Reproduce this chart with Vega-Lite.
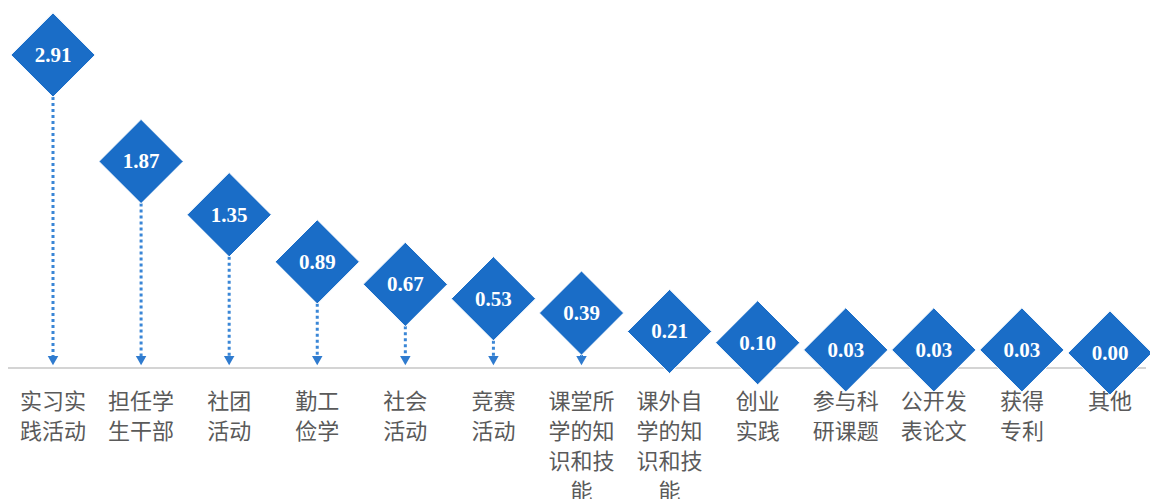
{
  "$schema": "https://vega.github.io/schema/vega-lite/v6.json",
  "width": 1150,
  "height": 499,
  "autosize": {"type": "none"},
  "padding": 0,
  "background": "#ffffff",
  "config": {"view": {"stroke": null}},
  "data": {
    "values": [
      {"cat": "实习实践活动", "label": "实习实\n践活动", "value": 2.91},
      {"cat": "担任学生干部", "label": "担任学\n生干部", "value": 1.87},
      {"cat": "社团活动", "label": "社团\n活动", "value": 1.35},
      {"cat": "勤工俭学", "label": "勤工\n俭学", "value": 0.89},
      {"cat": "社会活动", "label": "社会\n活动", "value": 0.67},
      {"cat": "竞赛活动", "label": "竞赛\n活动", "value": 0.53},
      {"cat": "课堂所学的知识和技能", "label": "课堂所\n学的知\n识和技\n能", "value": 0.39},
      {"cat": "课外自学的知识和技能", "label": "课外自\n学的知\n识和技\n能", "value": 0.21},
      {"cat": "创业实践", "label": "创业\n实践", "value": 0.10},
      {"cat": "参与科研课题", "label": "参与科\n研课题", "value": 0.03},
      {"cat": "公开发表论文", "label": "公开发\n表论文", "value": 0.03},
      {"cat": "获得专利", "label": "获得\n专利", "value": 0.03},
      {"cat": "其他", "label": "其他", "value": 0.00}
    ]
  },
  "encoding": {
    "x": {"field": "cat", "type": "nominal", "sort": null, "axis": null,
          "scale": {"type": "point", "range": [53, 1110], "padding": 0}}
  },
  "layer": [
    {
      "mark": {"type": "rule", "color": "#d4d4d4", "strokeWidth": 2},
      "encoding": {
        "x": {"value": 8},
        "x2": {"value": 1146},
        "y": {"datum": -0.1465, "type": "quantitative",
              "scale": {"domain": [-1.426, 3.447], "nice": false, "zero": false}, "axis": null}
      }
    },
    {
      "mark": {"type": "rule", "color": "#3a86d6", "strokeWidth": 3, "strokeDash": [3, 3]},
      "encoding": {
        "y": {"field": "value", "type": "quantitative"},
        "y2": {"datum": -0.08}
      }
    },
    {
      "mark": {"type": "point", "shape": "triangle-down", "filled": true, "color": "#2f7bcf", "size": 110, "opacity": 1},
      "encoding": {
        "y": {"datum": -0.075, "type": "quantitative"}
      }
    },
    {
      "mark": {"type": "point", "shape": "diamond", "filled": true, "color": "#1a6dc7", "size": 7100, "opacity": 1, "stroke": "#ffffff", "strokeWidth": 1},
      "encoding": {
        "y": {"field": "value", "type": "quantitative"}
      }
    },
    {
      "mark": {"type": "text", "color": "#ffffff", "font": "Liberation Serif", "fontWeight": "bold", "fontSize": 21, "baseline": "middle", "align": "center", "dy": 1},
      "encoding": {
        "y": {"field": "value", "type": "quantitative"},
        "text": {"field": "value", "type": "quantitative", "format": ".2f"}
      }
    },
    {
      "mark": {"type": "text", "color": "#5a5a5a", "font": "Noto Sans CJK SC", "fontSize": 22, "baseline": "top", "align": "center", "lineBreak": "\n", "lineHeight": 30},
      "encoding": {
        "y": {"datum": -0.38, "type": "quantitative"},
        "text": {"field": "label", "type": "nominal"}
      }
    }
  ]
}
